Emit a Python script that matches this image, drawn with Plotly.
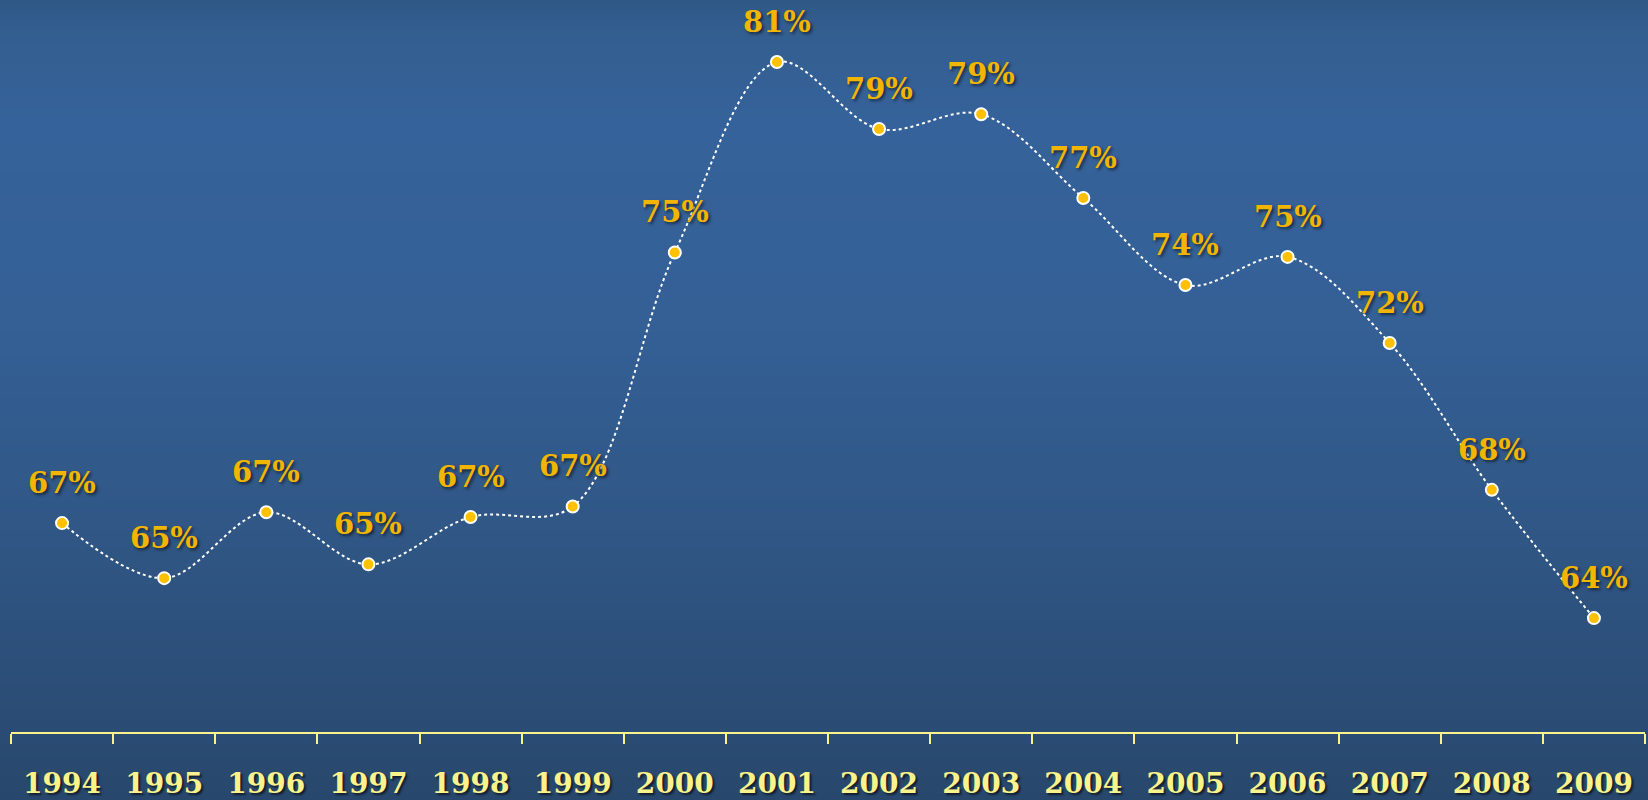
import plotly.graph_objects as go

# Yearly rate (%) shown on the chart
years = ["1994", "1995", "1996", "1997", "1998", "1999", "2000", "2001",
         "2002", "2003", "2004", "2005", "2006", "2007", "2008", "2009"]
rates = [66.56, 64.84, 66.90, 65.27, 66.75, 67.08, 75.02, 80.97,
         78.88, 79.34, 76.72, 74.00, 74.88, 72.19, 67.60, 63.59]

# Background gradient stops (bottom -> top)
bg_stops = [0.0, 0.12, 0.35, 0.6, 0.85, 0.96, 1.0]
bg_colors = ["#28476c", "#2b4d76", "#305786", "#346096", "#35629a", "#335e90", "#2f5886"]

WIDTH, HEIGHT = 1648, 800
GOLD = "#f2b500"
PALE = "#faf28a"
FONT = "DejaVu Serif"

fig = go.Figure()

# Full-page background drawn on its own hidden axes
fig.add_trace(go.Heatmap(
    x=[0, 1], y=bg_stops, z=[[s, s] for s in bg_stops],
    colorscale=[[s, c] for s, c in zip(bg_stops, bg_colors)],
    zmin=0, zmax=1, zsmooth="best", showscale=False, hoverinfo="skip",
    xaxis="x", yaxis="y",
))

# The smoothed dotted series with gold markers
fig.add_trace(go.Scatter(
    x=years, y=rates, mode="lines+markers",
    line=dict(color="white", width=2, dash="dot", shape="spline", smoothing=1),
    marker=dict(size=12, color="#ffc000", line=dict(color="white", width=2)),
    xaxis="x2", yaxis="y2", hoverinfo="skip",
))

# Percentage labels above each point (x given as category index)
for i, v in enumerate(rates):
    fig.add_annotation(
        x=i, y=v, xref="x2", yref="y2", text=f"{v:.0f}%", showarrow=False,
        yshift=40, xanchor="center", yanchor="middle",
        font=dict(family=FONT, size=29, color=GOLD, weight="bold",
                  shadow="2px 2px 3px rgba(0,0,0,0.55)"),
    )

fig.update_layout(
    width=WIDTH, height=HEIGHT,
    margin=dict(l=0, r=0, t=0, b=0),
    paper_bgcolor="#2d5280", plot_bgcolor="rgba(0,0,0,0)",
    showlegend=False,
    xaxis=dict(domain=[0, 1], range=[0, 1], visible=False, fixedrange=True),
    yaxis=dict(domain=[0, 1], range=[0, 1], visible=False, fixedrange=True),
    xaxis2=dict(
        domain=[11 / WIDTH, 1645 / WIDTH], anchor="y2", type="category",
        range=[-0.5, len(years) - 0.5], automargin=False,
        tickson="boundaries", ticks="outside", ticklen=10, tickwidth=2,
        tickcolor=PALE, showline=True, linecolor=PALE, linewidth=2,
        showgrid=False, zeroline=False, ticklabelstandoff=26,
        tickfont=dict(family=FONT, size=28, color=PALE, weight="bold",
                      shadow="2px 2px 2px rgba(0,0,0,0.6)"),
    ),
    yaxis2=dict(
        domain=[1 - 731.7 / HEIGHT, 1], anchor="x2", range=[60.04, 82.91],
        visible=False, automargin=False, showgrid=False, zeroline=False,
    ),
)

fig.write_html("out.html")
